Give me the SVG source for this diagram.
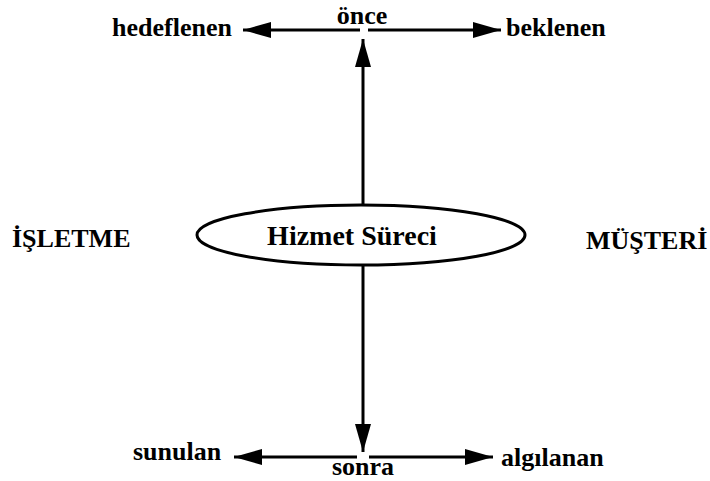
<svg xmlns="http://www.w3.org/2000/svg" width="710" height="481" viewBox="0 0 710 481">
<style>
text{font-family:"Liberation Serif","Times New Roman",Times,serif;font-weight:bold;font-size:26px;fill:#000}
.c{stroke:#000;stroke-width:3;fill:none}
</style>
<defs>
<marker id="ah" markerUnits="userSpaceOnUse" markerWidth="30" markerHeight="18" refX="28" refY="8" orient="auto">
<path d="M0,0 L28,8 L0,16 Z" fill="#000"/>
</marker>
</defs>
<rect width="710" height="481" fill="#fff"/>
<g id="connectors">
<line class="c" x1="360" y1="30" x2="243" y2="30" marker-end="url(#ah)"/>
<line class="c" x1="368" y1="30" x2="501" y2="30" marker-end="url(#ah)"/>
<line class="c" x1="363" y1="205" x2="363" y2="39" marker-end="url(#ah)"/>
<line class="c" x1="363" y1="265" x2="363" y2="452" marker-end="url(#ah)"/>
<line class="c" x1="357" y1="457" x2="234" y2="457" marker-end="url(#ah)"/>
<line class="c" x1="369" y1="457" x2="493" y2="457" marker-end="url(#ah)"/>
</g>
<g id="hizmet">
<ellipse cx="361" cy="235" rx="164" ry="30" fill="#fff" stroke="#000" stroke-width="3"/>
<text x="352" y="245" text-anchor="middle" style="font-size:28px">Hizmet Süreci</text>
</g>
<g id="once"><text x="362" y="24" text-anchor="middle">önce</text></g>
<g id="hedeflenen"><text x="112" y="36">hedeflenen</text></g>
<g id="beklenen"><text x="506" y="36">beklenen</text></g>
<g id="isletme"><text x="12" y="247">İŞLETME</text></g>
<g id="musteri"><text x="586" y="249">MÜŞTERİ</text></g>
<g id="sunulan"><text x="133" y="460">sunulan</text></g>
<g id="sonra"><text x="363" y="475" text-anchor="middle">sonra</text></g>
<g id="algilanan"><text x="501" y="466">algılanan</text></g>
</svg>
